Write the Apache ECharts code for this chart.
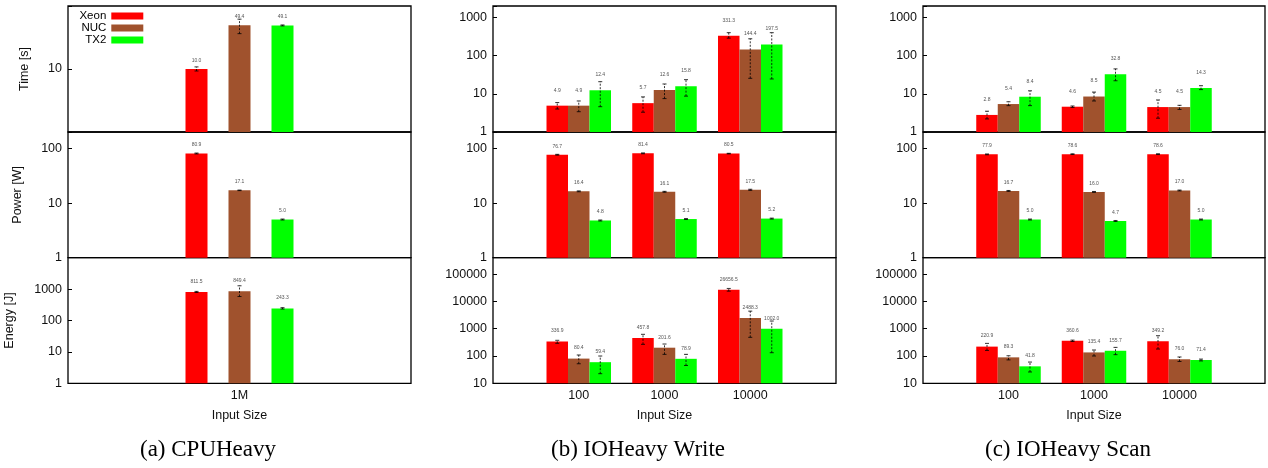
<!DOCTYPE html>
<html>
<head>
<meta charset="utf-8">
<script src="https://cdn.jsdelivr.net/npm/echarts@6/dist/echarts.min.js"></script>
<style>
html,body{margin:0;padding:0;background:#fff;}
#c{width:1268px;height:468px;}
</style>
</head>
<body>
<div id="c"></div>
<script>
// ---------------- DATA ----------------
const machines = ['Xeon', 'NUC', 'TX2'];
const sizesCPU = ['1M'];
const sizesIO = ['100', '1000', '10000'];
const captions = ['(a) CPUHeavy', '(b) IOHeavy Write', '(c) IOHeavy Scan'];
const rowNames = ['Time [s]', 'Power [W]', 'Energy [J]'];

// tick labels shown on each log axis
const timeTicksCPU = [10];
const timeTicksIO = [1, 10, 100, 1000];
const powerTicks = [1, 10, 100];
const energyTicksCPU = [1, 10, 100, 1000];
const energyTicksIO = [10, 100, 1000, 10000, 100000];

// values: [machine][inputSize]; errors: [machine][inputSize] = [low, high]
const cpuTime = [[10.0], [49.4], [49.1]];
const cpuTimeErr = [[[9.3, 10.8]], [[36.4, 61.8]], [[48.3, 50.0]]];
const cpuPower = [[80.9], [17.1], [5.0]];
const cpuPowerErr = [[[79.4, 82.4]], [[16.9, 17.3]], [[4.9, 5.1]]];
const cpuEnergy = [[811.5], [849.4], [243.3]];
const cpuEnergyErr = [[[780, 845]], [[580, 1275]], [[232, 256]]];

const writeTime = [[4.9, 5.7, 331.3], [4.9, 12.6, 144.4], [12.4, 15.8, 197.5]];
const writeTimeErr = [[[4.0, 5.9], [3.3, 8.3], [288, 400]], [[3.4, 6.5], [7.5, 18.1], [25.5, 277]], [[4.6, 20.8], [8.7, 23.5], [24.5, 400]]];
const writePower = [[76.7, 81.4, 80.5], [16.4, 16.1, 17.5], [4.8, 5.1, 5.2]];
const writePowerErr = [[[75.5, 78.0], [80.0, 82.8], [79.5, 81.5]], [[16.1, 16.7], [15.8, 16.4], [17.1, 17.9]], [[4.7, 4.9], [5.0, 5.2], [5.1, 5.3]]];
const writeEnergy = [[336.9, 457.8, 26656.5], [80.4, 201.6, 2488.3], [59.4, 78.9, 1002.0]];
const writeEnergyErr = [[[292, 376], [268, 623], [23800, 29900]], [[52, 109], [115, 275], [484, 4410]], [[22.5, 100], [45, 115], [132, 1914]]];

const scanTime = [[2.8, 4.6, 4.5], [5.4, 8.5, 4.5], [8.4, 32.8, 14.3]];
const scanTimeErr = [[[2.2, 3.5], [4.4, 4.8], [2.3, 6.9]], [[4.9, 6.2], [6.5, 11.1], [3.9, 5.0]], [[4.9, 12.0], [22, 45], [12.9, 16.3]]];
const scanPower = [[77.9, 78.6, 78.6], [16.7, 16.0, 17.0], [5.0, 4.7, 5.0]];
const scanPowerErr = [[[76.6, 79.2], [77.4, 79.8], [77.3, 79.9]], [[16.4, 17.0], [15.7, 16.3], [16.7, 17.3]], [[4.9, 5.1], [4.6, 4.8], [4.9, 5.1]]];
const scanEnergy = [[220.9, 360.6, 349.2], [89.3, 135.4, 76.0], [41.8, 155.7, 71.4]];
const scanEnergyErr = [[[160, 290], [340, 382], [180, 554]], [[72, 102], [100, 166], [63, 92]], [[26, 60], [112, 207], [66, 77]]];

// ---------------- LAYOUT / STYLE ----------------
const colors = ['#ff0000', '#a0522d', '#00ff00'];
const colLeft = [68, 493, 923];
const colWidth = [343, 343, 342];
const rowTop = [6, 132, 257.7];
const rowHeight = [126, 125.7, 125.6];
const captionX = [208, 638, 1068];
const nameGaps = [36.5, 43.5, 52];
const SLOTS = 5;

const panels = [
  { sizes: sizesCPU, vals: [cpuTime, cpuPower, cpuEnergy], errs: [cpuTimeErr, cpuPowerErr, cpuEnergyErr],
    barW: 22, gapPx: 21,
    axes: [{ min: 1, max: 100, ticks: timeTicksCPU }, { min: 1, max: 200, ticks: powerTicks }, { min: 1, max: 10000, ticks: energyTicksCPU }],
    labelDist: [6, 6, 8] },
  { sizes: sizesIO, vals: [writeTime, writePower, writeEnergy], errs: [writeTimeErr, writePowerErr, writeEnergyErr],
    barW: 21.5, gapPx: 0,
    axes: [{ min: 1, max: 2000, ticks: timeTicksIO }, { min: 1, max: 200, ticks: powerTicks }, { min: 10, max: 400000, ticks: energyTicksIO }],
    labelDist: [13, 6, 8] },
  { sizes: sizesIO, vals: [scanTime, scanPower, scanEnergy], errs: [scanTimeErr, scanPowerErr, scanEnergyErr],
    barW: 21.5, gapPx: 0,
    axes: [{ min: 1, max: 2000, ticks: timeTicksIO }, { min: 1, max: 200, ticks: powerTicks }, { min: 10, max: 400000, ticks: energyTicksIO }],
    labelDist: [13, 6, 8] }
];

const grids = [], xAxes = [], yAxes = [], series = [];
const sans = 'Liberation Sans, Arial, Helvetica, sans-serif';

panels.forEach((p, c) => {
  const start = (SLOTS - p.sizes.length) / 2;
  const slotLabels = [];
  for (let i = 0; i < SLOTS; i++) {
    const k = i - start;
    slotLabels.push(k >= 0 && k < p.sizes.length ? p.sizes[k] : '');
  }
  const offsets = machines.map((m, mi) => (mi - 1) * (p.barW + p.gapPx));
  for (let r = 0; r < 3; r++) {
    const gi = grids.length;
    grids.push({ left: colLeft[c], top: rowTop[r], width: colWidth[c], height: rowHeight[r],
      show: true, borderColor: '#000', borderWidth: 1.3, containLabel: false });
    const bottom = r === 2;
    xAxes.push({ type: 'category', gridIndex: gi, data: slotLabels, boundaryGap: false,
      axisLine: { show: false }, axisTick: { show: false }, splitLine: { show: false },
      axisLabel: { show: bottom, interval: 0, fontSize: 12.5, color: '#111', margin: 6, fontFamily: sans },
      name: bottom ? 'Input Size' : '', nameLocation: 'middle', nameGap: 26,
      nameTextStyle: { fontSize: 12.5, color: '#111', fontFamily: sans } });
    const ax = p.axes[r];
    const shown = ax.ticks;
    yAxes.push({ type: 'log', logBase: 10, gridIndex: gi, min: ax.min, max: ax.max, startValue: ax.min,
      axisLine: { show: false }, splitLine: { show: false }, minorTick: { show: false },
      axisTick: { show: true, inside: true, length: 4, lineStyle: { color: '#000', width: 1 } },
      axisLabel: { fontSize: 12.5, color: '#111', margin: 6, fontFamily: sans, showMinLabel: true, showMaxLabel: true,
        formatter: v => { const t = shown.find(s => Math.abs(s - v) / s < 1e-6); return t !== undefined ? String(t) : ''; } },
      name: c === 0 ? rowNames[r] : '', nameLocation: 'middle', nameGap: nameGaps[r],
      nameTextStyle: { fontSize: 12.5, color: '#111', fontFamily: sans } });

    machines.forEach((m, mi) => {
      const data = slotLabels.map(() => '-');
      p.vals[r][mi].forEach((v, k) => { data[start + k] = v; });
      series.push({ type: 'bar', name: m, xAxisIndex: gi, yAxisIndex: gi, data: data,
        barWidth: p.barW, barGap: (p.gapPx / p.barW * 100) + '%', clip: true,
        itemStyle: { color: colors[mi] },
        label: { show: true, position: 'top', distance: p.labelDist[r], fontSize: 5, color: '#555', fontFamily: sans,
          formatter: q => typeof q.value === 'number' ? q.value.toFixed(1) : '' } });
    });

    const errData = [];
    machines.forEach((m, mi) => {
      p.errs[r][mi].forEach((e, k) => errData.push([start + k, e[0], e[1], mi]));
    });
    series.push({ type: 'custom', xAxisIndex: gi, yAxisIndex: gi, data: errData, z: 5, silent: true,
      encode: { x: 0, y: [1, 2] },
      renderItem: (params, api) => {
        const slot = api.value(0), lo = api.value(1), hi = api.value(2), mi = api.value(3);
        const pLo = api.coord([slot, lo]);
        const pHi = api.coord([slot, hi]);
        const x = pLo[0] + offsets[mi];
        const cap = 2;
        const st = { stroke: '#000', lineWidth: 0.8 };
        return { type: 'group', children: [
          { type: 'line', shape: { x1: x, y1: pLo[1], x2: x, y2: pHi[1] }, style: { stroke: '#000', lineWidth: 0.8, lineDash: [2, 1.5] } },
          { type: 'line', shape: { x1: x - cap, y1: pHi[1], x2: x + cap, y2: pHi[1] }, style: st },
          { type: 'line', shape: { x1: x - cap, y1: pLo[1], x2: x + cap, y2: pLo[1] }, style: st }
        ] };
      } });
  }
});

const chart = echarts.init(document.getElementById('c'), null, { renderer: 'canvas' });
chart.setOption({
  animation: false,
  backgroundColor: '#fff',
  grid: grids,
  xAxis: xAxes,
  yAxis: yAxes,
  legend: { orient: 'vertical', align: 'right', right: 1268 - 143.3, top: 10, padding: 0,
    itemWidth: 32, itemHeight: 7, itemGap: 0, icon: 'rect', selectedMode: false, data: machines,
    textStyle: { fontSize: 11.5, lineHeight: 11.5, color: '#000', fontFamily: sans } },
  graphic: captions.map((t, i) => ({ type: 'text', x: captionX[i], y: 450,
    style: { text: t, align: 'center', verticalAlign: 'middle', fontFamily: 'Liberation Serif, Times New Roman, serif', fontSize: 23, fill: '#000' } })),
  series: series
});
</script>
</body>
</html>
